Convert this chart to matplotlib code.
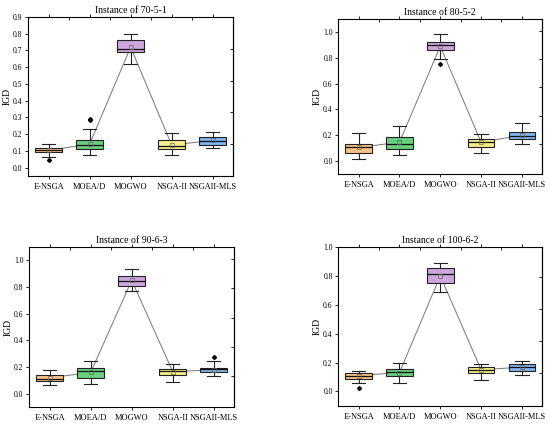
import matplotlib.pyplot as plt
import numpy as np

plt.rcParams['font.family'] = ['Liberation Serif', 'DejaVu Serif']

# Алгоритмы и цвета
algos = ['E-NSGA', 'MOEA/D', 'MOGWO', 'NSGA-II', 'NSGAII-MLS']
colors = ['#F7C285', '#69CF7E', '#CCA6DC', '#F6EE88', '#7FB4EF']

# Данные (whislo, q1, med, q3, whishi, mean) для каждого экземпляра
titles = ['Instance of 70-5-1', 'Instance of 80-5-2', 'Instance of 90-6-3', 'Instance of 100-6-2']

stats_70_5_1 = [
    [0.064, 0.092, 0.103, 0.118, 0.142, 0.103],
    [0.078, 0.112, 0.136, 0.162, 0.228, 0.140],
    [0.617, 0.690, 0.710, 0.760, 0.800, 0.720],
    [0.078, 0.114, 0.128, 0.166, 0.208, 0.135],
    [0.116, 0.136, 0.160, 0.180, 0.214, 0.162],
]
fliers_70_5_1 = [[0.048], [0.283, 0.290], [], [], []]

stats_80_5_2 = [
    [0.018, 0.065, 0.108, 0.129, 0.214, 0.105],
    [0.044, 0.090, 0.134, 0.189, 0.274, 0.145],
    [0.790, 0.858, 0.900, 0.922, 0.987, 0.890],
    [0.062, 0.108, 0.150, 0.170, 0.212, 0.145],
    [0.129, 0.168, 0.190, 0.225, 0.292, 0.200],
]
fliers_80_5_2 = [[], [], [0.755], [], []]

stats_90_6_3 = [
    [0.063, 0.093, 0.113, 0.143, 0.181, 0.120],
    [0.070, 0.116, 0.168, 0.193, 0.249, 0.160],
    [0.769, 0.809, 0.847, 0.879, 0.932, 0.850],
    [0.085, 0.141, 0.168, 0.188, 0.226, 0.165],
    [0.131, 0.161, 0.183, 0.196, 0.246, 0.180],
]
fliers_90_6_3 = [[], [], [], [], [0.274]]

stats_100_6_2 = [
    [0.056, 0.088, 0.109, 0.128, 0.144, 0.110],
    [0.060, 0.105, 0.133, 0.153, 0.200, 0.130],
    [0.691, 0.747, 0.812, 0.853, 0.891, 0.800],
    [0.081, 0.130, 0.151, 0.167, 0.188, 0.150],
    [0.116, 0.142, 0.167, 0.188, 0.212, 0.168],
]
fliers_100_6_2 = [[0.023], [], [], [], []]

all_stats = [stats_70_5_1, stats_80_5_2, stats_90_6_3, stats_100_6_2]
all_fliers = [fliers_70_5_1, fliers_80_5_2, fliers_90_6_3, fliers_100_6_2]

ylims = [(-0.05, 0.9), (-0.1, 1.1), (-0.1, 1.1), (-0.1, 1.0)]
yticks = [np.arange(0, 0.91, 0.1), np.arange(0, 1.01, 0.2), np.arange(0, 1.01, 0.2), np.arange(0, 1.01, 0.2)]
rects = [
    [0.051, 0.586, 0.373, 0.374],
    [0.615, 0.591, 0.371, 0.364],
    [0.053, 0.042, 0.373, 0.377],
    [0.615, 0.045, 0.371, 0.374],
]

fig = plt.figure(figsize=(5.5, 4.25), dpi=100)

for k in range(4):
    ax = fig.add_axes(rects[k])
    bstats = []
    for i, s in enumerate(all_stats[k]):
        bstats.append(dict(whislo=s[0], q1=s[1], med=s[2], q3=s[3], whishi=s[4],
                           mean=s[5], fliers=all_fliers[k][i], label=algos[i]))
    pos = np.arange(1, 6)
    bp = ax.bxp(bstats, positions=pos, widths=0.65, patch_artist=True, showmeans=True,
                boxprops=dict(linewidth=0.8, edgecolor='#222222'),
                medianprops=dict(color='#111111', linewidth=0.9),
                whiskerprops=dict(color='#222222', linewidth=0.8),
                capprops=dict(color='#222222', linewidth=0.8),
                meanprops=dict(marker='s', markersize=2.2, markerfacecolor='none',
                               markeredgecolor='#666666', markeredgewidth=0.5),
                flierprops=dict(marker='D', markersize=2, markerfacecolor='black',
                                markeredgecolor='black'))
    for patch, c in zip(bp['boxes'], colors):
        patch.set_facecolor(c)
    means = [s[5] for s in all_stats[k]]
    ax.plot(pos, means, '-', color='#777777', linewidth=0.7, zorder=1)

    ax.set_xlim(0.5, 5.5)
    ax.set_ylim(*ylims[k])
    ax.set_yticks(yticks[k])
    ax.set_yticklabels([f'{v:.1f}' for v in yticks[k]], fontsize=5.5)
    ax.set_xticks(pos)
    ax.set_xticklabels(algos, fontsize=6)
    ax.set_xticks(np.arange(1.5, 5.5, 1), minor=True)
    ax.tick_params(axis='x', which='major', length=2.5, width=0.6, top=True, direction='out', pad=2.5)
    ax.tick_params(axis='x', which='minor', length=2, width=0.6, top=True, bottom=False, direction='in')
    ax.tick_params(axis='y', length=2.5, width=0.6, direction='out', pad=1.5)
    sec = ax.secondary_yaxis('right')
    sec.set_yticks(np.arange(0.14, ylims[k][1], 0.19) if k == 0 else np.arange(0.13, ylims[k][1], 0.22))
    sec.set_yticklabels([])
    sec.tick_params(direction='in', length=2.5, width=0.6)
    for sp in ax.spines.values():
        sp.set_linewidth(0.8)
    sec.spines['right'].set_linewidth(0.8)
    ax.set_ylabel('IGD', fontsize=7, labelpad=1)
    ax.set_title(titles[k], fontsize=7, pad=3)

plt.savefig('out.png', dpi=100)
